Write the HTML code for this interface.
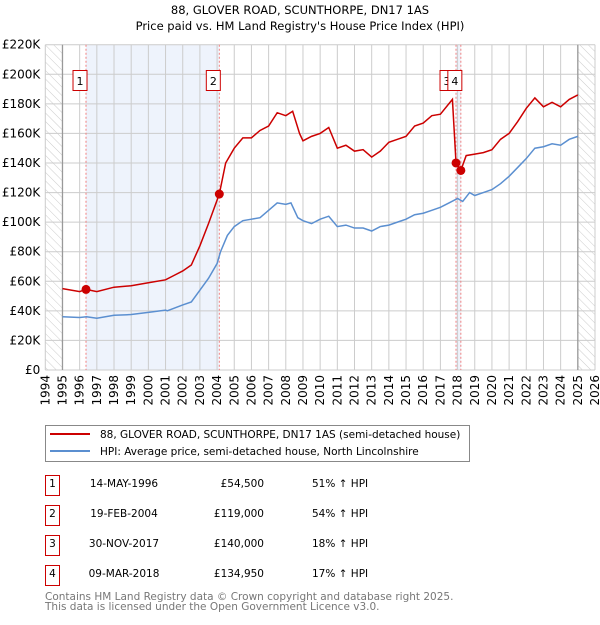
<!DOCTYPE html>
<html><head><meta charset="utf-8"><style>
body{margin:0;background:#fff;font-family:"Liberation Sans","DejaVu Sans",sans-serif;}
svg text{font-family:"DejaVu Sans","Liberation Sans",sans-serif;}
</style></head><body>
<svg id="chart" width="600" height="620" viewBox="0 0 600 620" xmlns="http://www.w3.org/2000/svg">
<defs><pattern id="hatch" width="6" height="6" patternUnits="userSpaceOnUse" patternTransform="rotate(-45)"><line x1="0" y1="0" x2="0" y2="6" stroke="#ccc" stroke-width="1"/></pattern></defs>
<text x="300" y="14" text-anchor="middle" font-size="11.5" fill="#000">88, GLOVER ROAD, SCUNTHORPE, DN17 1AS</text>
<text x="300" y="30" text-anchor="middle" font-size="11.5" fill="#000">Price paid vs. HM Land Registry's House Price Index (HPI)</text>
<g id="grid"></g><g id="marks"></g><g id="axes"></g>
<g>
<rect x="45.5" y="425.5" width="424" height="36" fill="#fff" stroke="#888"/>
<line x1="50" y1="434" x2="90" y2="434" stroke="#cc0000" stroke-width="2"/>
<text x="100" y="438" font-size="10.5">88, GLOVER ROAD, SCUNTHORPE, DN17 1AS (semi-detached house)</text>
<line x1="50" y1="451" x2="90" y2="451" stroke="#5b8fd0" stroke-width="2"/>
<text x="100" y="455" font-size="10.5">HPI: Average price, semi-detached house, North Lincolnshire</text>
</g>
<g id="table"></g>
<text x="45" y="600" font-size="10.5" fill="#777">Contains HM Land Registry data © Crown copyright and database right 2025.</text>
<text x="45" y="610" font-size="10.5" fill="#777">This data is licensed under the Open Government Licence v3.0.</text>
</svg>
<script>
const hpiT=[1995,1996,1996.4,1997,1998,1999,2000,2001,2001.1,2002,2002.5,2003,2003.5,2004,2004.2,2004.6,2005,2005.5,2006,2006.5,2007,2007.5,2008,2008.3,2008.7,2009,2009.5,2010,2010.5,2011,2011.5,2012,2012.5,2013,2013.5,2014,2014.5,2015,2015.5,2016,2016.5,2017,2017.5,2018,2018.3,2018.7,2019,2019.5,2020,2020.5,2021,2021.5,2022,2022.5,2023,2023.5,2024,2024.5,2025];
const hpiV=[36,35.5,36,35,37,37.5,39,40.5,40,44,46,54,62,72,80,91,97,101,102,103,108,113,112,113,103,101,99,102,104,97,98,96,96,94,97,98,100,102,105,106,108,110,113,116,114,120,118,120,122,126,131,137,143,150,151,153,152,156,158];
const redT=[1995,1996,1996.37,1997,1998,1999,2000,2001,2001.5,2002,2002.5,2003,2003.5,2004.13,2004.5,2005,2005.5,2006,2006.5,2007,2007.5,2008,2008.4,2008.8,2009,2009.5,2010,2010.5,2011,2011.5,2012,2012.5,2013,2013.5,2014,2014.5,2015,2015.5,2016,2016.5,2017,2017.7,2017.91,2018.19,2018.5,2019,2019.5,2020,2020.5,2021,2021.5,2022,2022.5,2023,2023.5,2024,2024.5,2025];
const redV=[55,53,54.5,53,56,57,59,61,64,67,71,84,99,119,140,150,157,157,162,165,174,172,175,160,155,158,160,164,150,152,148,149,144,148,154,156,158,165,167,172,173,183,140,134.95,145,146,147,149,156,160,168,177,184,178,181,178,183,186];
const saleT=[1996.37,2004.13,2017.91,2018.19];
const saleV=[54.5,119,140,134.95];
const saleLabels=["1","2","3","4"];
const saleDates=["14-MAY-1996","19-FEB-2004","30-NOV-2017","09-MAR-2018"];
const salePrices=["£54,500","£119,000","£140,000","£134,950"];
const saleHpi=["51% ↑ HPI","54% ↑ HPI","18% ↑ HPI","17% ↑ HPI"];
const yTicks=[0,20,40,60,80,100,120,140,160,180,200,220];
const xTicks=[1994,1995,1996,1997,1998,1999,2000,2001,2002,2003,2004,2005,2006,2007,2008,2009,2010,2011,2012,2013,2014,2015,2016,2017,2018,2019,2020,2021,2022,2023,2024,2025,2026];
const X0=45.3,X1=595,Y0=370,Y1=44.7;
const xs=t=>X0+(t-1994)*(X1-X0)/32;
const ys=v=>Y0-v*(Y0-Y1)/220;
const NS="http://www.w3.org/2000/svg";
function mk(p,tag,at){const e=document.createElementNS(NS,tag);for(const k in at)e.setAttribute(k,at[k]);p.appendChild(e);return e;}
const grid=document.getElementById('grid'),marks=document.getElementById('marks'),axes=document.getElementById('axes'),table=document.getElementById('table');
let e;
e=mk(grid,'rect',{x:xs(1994),y:Y1,width:xs(1995)-xs(1994),height:Y0-Y1,fill:'url(#hatch)'});

e=mk(grid,'rect',{x:xs(2025),y:Y1,width:xs(2026)-xs(2025),height:Y0-Y1,fill:'url(#hatch)'});

e=mk(grid,'rect',{x:xs(saleT[0]),y:Y1,width:xs(saleT[1])-xs(saleT[0]),height:Y0-Y1,fill:'#eef3fc'});

e=mk(grid,'rect',{x:xs(saleT[2]),y:Y1,width:xs(saleT[3])-xs(saleT[2]),height:Y0-Y1,fill:'#eef3fc'});

yTicks.forEach(v=>{
 e=mk(grid,'line',{x1:X0,x2:X1,y1:ys(v),y2:ys(v),stroke:'#ccc','stroke-width':1});
 
 e=mk(axes,'text',{x:X0-5,y:ys(v)+4,'text-anchor':'end','font-size':12});e.textContent=v===0?'£0':'£'+v+'K';
 
});
xTicks.forEach(t=>{
 e=mk(grid,'line',{x1:xs(t),x2:xs(t),y1:Y1,y2:Y0,stroke:'#ccc','stroke-width':1});
 
 e=mk(axes,'text',{x:0,y:0,'text-anchor':'end','font-size':12,transform:`translate(${xs(t)+4},${Y0+5}) rotate(-90)`});e.textContent=t;
 
});
[1995,2025].forEach(t=>{e=mk(grid,'line',{x1:xs(t),x2:xs(t),y1:Y1,y2:Y0,stroke:'#999','stroke-width':1.3});
 });
saleT.forEach((t,i)=>{
 e=mk(grid,'line',{x1:xs(t),x2:xs(t),y1:Y1,y2:Y0,stroke:'#f08080','stroke-width':1,'stroke-dasharray':'2,2'});
 
});
e=mk(marks,'polyline',{points:hpiT.map((t,i)=>xs(t)+','+ys(hpiV[i])).join(' '),fill:'none',stroke:'#5b8fd0','stroke-width':1.5});

e=mk(marks,'polyline',{points:redT.map((t,i)=>xs(t)+','+ys(redV[i])).join(' '),fill:'none',stroke:'#cc0000','stroke-width':1.5});

saleT.forEach((t,i)=>{
 e=mk(marks,'circle',{cx:xs(t),cy:ys(saleV[i]),r:4.5,fill:'#cc0000'});
 
});
const boxX=[xs(saleT[0])-6,xs(saleT[1])-6,xs(saleT[2])-9,xs(saleT[3])-6];
saleLabels.forEach((l,i)=>{
 const g=mk(marks,'g',{});
 
 mk(g,'rect',{x:boxX[i]-7,y:70.5,width:14,height:20,fill:'#fff',stroke:'#cc0000'});
 const tx=mk(g,'text',{x:boxX[i],y:85,'text-anchor':'middle','font-size':11});tx.textContent=l;
});
saleLabels.forEach((l,i)=>{
 const y=483+i*30;
 const g=mk(table,'g',{});
 
 mk(g,'rect',{x:45.5,y:y-7.5,width:14,height:20,fill:'#fff',stroke:'#cc0000'});
 let t=mk(g,'text',{x:52.5,y:y+4,'text-anchor':'middle','font-size':10.5});t.textContent=l;
 t=mk(g,'text',{x:124,y:y+4,'text-anchor':'middle','font-size':10.5});t.textContent=saleDates[i];
 t=mk(g,'text',{x:264,y:y+4,'text-anchor':'end','font-size':10.5});t.textContent=salePrices[i];
 t=mk(g,'text',{x:312,y:y+4,'font-size':10.5});t.textContent=saleHpi[i];
});
</script>
</body></html>
